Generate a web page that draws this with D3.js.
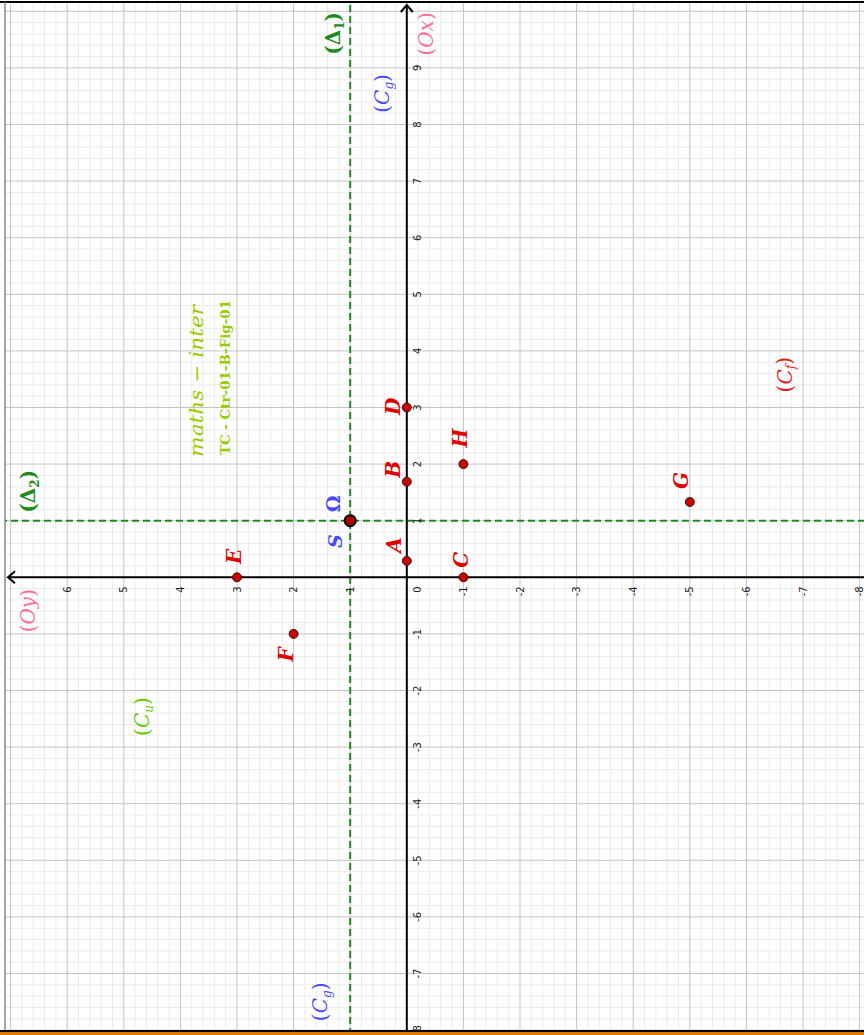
<!DOCTYPE html>
<meta charset="utf-8">
<style>
  body { margin: 0; background: #fff; }
  svg { display: block; }
</style>
<body></body>
<script src="https://cdn.jsdelivr.net/npm/d3@7"></script>
<script>
  const width = 864
  const height = 1035

  // points (math coordinates) and where their names sit
  const pointNames = ["A", "B", "C", "D", "E", "F", "G", "H"]
  const pointX = [0.29, 1.69, 0, 3, 0, -1, 1.33, 2]
  const pointY = [0, 0, -1, 0, 3, 2, -5, -1]
  const pointLabelX = [0.57, 1.91, 0.31, 3.02, 0.37, -1.36, 1.71, 2.46]
  const pointLabelY = [0.23, 0.235, -0.95, 0.24, 3.06, 2.14, -4.84, -0.94]

  // centre of symmetry Omega
  const omega = [1, 1]

  // curve / line names: [base, subscript, colour key]
  const curveNames = [["Ox", "", "axis"], ["Oy", "", "axis"], ["C", "g", "cg"], ["C", "g", "cg"],
                      ["C", "f", "cf"], ["C", "u", "cu"], ["Δ", "1", "delta"], ["Δ", "2", "delta"]]
  const curveLabelX = [9.6, -0.59, 8.55, -7.5, 3.58, -2.46, 9.61, 1.52]
  const curveLabelY = [-0.34, 6.69, 0.43, 1.53, -6.68, 4.67, 1.30, 6.69]

  const xTicks = d3.range(-8, 10)
  const yTicks = d3.range(-8, 7)

  const colors = {
    axis: "#ff6f99",
    cg: "#4a4aff",
    cf: "#e31a1a",
    cu: "#66cc00",
    delta: "#1f8a1f",
    point: "#e00000",
    credit: "#99cc00"
  }

  // the picture is a GeoGebra view turned a quarter turn: draw it flat, then rotate
  const fw = height, fh = width
  const unit = 56.6
  const x = d3.scaleLinear().domain([0, 1]).range([457.7, 457.7 + unit])
  const y = d3.scaleLinear().domain([0, 1]).range([406.8, 406.8 - unit])

  const svg = d3.select("body").append("svg")
    .attr("width", width)
    .attr("height", height)

  svg.append("defs").append("clipPath").attr("id", "view")
    .append("rect").attr("x", 4).attr("y", 5).attr("width", 1029).attr("height", fh - 5)

  const g = svg.append("g")
    .attr("transform", `translate(0,${height}) rotate(-90)`)

  const grid = g.append("g").attr("clip-path", "url(#view)")

  // minor grid every 1/5 unit
  const minorX = d3.range(-45, 56).filter(i => i % 5 !== 0).map(i => i / 5)
  const minorY = d3.range(-45, 41).filter(i => i % 5 !== 0).map(i => i / 5)
  grid.selectAll("line.mx").data(minorX).join("line")
    .attr("x1", d => x(d)).attr("x2", d => x(d)).attr("y1", 0).attr("y2", fh)
    .attr("stroke", "#ebebeb").attr("stroke-width", 1)
  grid.selectAll("line.my").data(minorY).join("line")
    .attr("y1", d => y(d)).attr("y2", d => y(d)).attr("x1", 0).attr("x2", fw)
    .attr("stroke", "#ebebeb").attr("stroke-width", 1)

  // major grid
  grid.selectAll("line.Mx").data(d3.range(-9, 12)).join("line")
    .attr("x1", d => x(d)).attr("x2", d => x(d)).attr("y1", 0).attr("y2", fh)
    .attr("stroke", "#c4c4c4").attr("stroke-width", 1)
  grid.selectAll("line.My").data(d3.range(-9, 9)).join("line")
    .attr("y1", d => y(d)).attr("y2", d => y(d)).attr("x1", 0).attr("x2", fw)
    .attr("stroke", "#c4c4c4").attr("stroke-width", 1)

  // dashed asymptotes
  grid.append("line")
    .attr("x1", 0).attr("x2", fw).attr("y1", y(omega[1])).attr("y2", y(omega[1]))
    .attr("stroke", colors.delta).attr("stroke-width", 2).attr("stroke-dasharray", "7,4")
  grid.append("line")
    .attr("y1", 0).attr("y2", fh).attr("x1", x(omega[0])).attr("x2", x(omega[0]))
    .attr("stroke", colors.delta).attr("stroke-width", 2).attr("stroke-dasharray", "7,4")

  // axes
  const axisG = g.append("g").attr("stroke", "#000").attr("stroke-width", 2).attr("fill", "none")
  axisG.append("line").attr("x1", 4).attr("x2", fw - 5).attr("y1", y(0)).attr("y2", y(0))
  axisG.append("line").attr("x1", x(0)).attr("x2", x(0)).attr("y1", fh).attr("y2", 8)
  axisG.append("path")
    .attr("d", `M${fw - 12},${y(0) - 6}L${fw - 5},${y(0)}L${fw - 12},${y(0) + 6}`)
  axisG.append("path")
    .attr("d", `M${x(0) - 6},${15}L${x(0)},${8}L${x(0) + 6},${15}`)

  // tick labels
  const tickFont = "'DejaVu Sans', sans-serif"
  g.append("g").selectAll("text").data(xTicks).join("text")
    .attr("x", d => d === 0 ? x(0) - 9 : x(d))
    .attr("y", y(0) + 14)
    .attr("text-anchor", d => d === 0 ? "end" : "middle")
    .attr("font-family", tickFont).attr("font-size", 10).attr("fill", "#222")
    .text(d => String(d))
  g.append("g").selectAll("text").data(yTicks.filter(d => d !== 0)).join("text")
    .attr("x", x(0) - 9)
    .attr("y", d => y(d))
    .attr("dy", "0.35em")
    .attr("text-anchor", "end")
    .attr("font-family", tickFont).attr("font-size", 10).attr("fill", "#222")
    .text(d => String(d))

  const serif = "'DejaVu Serif', serif"

  // curve names
  const cl = g.append("g").selectAll("text").data(curveNames).join("text")
    .attr("x", (d, i) => x(curveLabelX[i]))
    .attr("y", (d, i) => y(curveLabelY[i]))
    .attr("dy", "0.35em")
    .attr("text-anchor", "middle")
    .attr("font-family", serif)
    .attr("font-size", 20)
    .attr("font-weight", d => d[2] === "delta" ? "bold" : "normal")
    .attr("fill", d => colors[d[2]])
  cl.each(function(d) {
    const t = d3.select(this)
    t.append("tspan").text("(")
    t.append("tspan").attr("font-style", d[2] === "delta" ? "normal" : "italic").text(d[0])
    if (d[1]) {
      t.append("tspan").attr("font-size", 12).attr("dy", "0.3em")
        .attr("font-style", d[2] === "delta" ? "normal" : "italic").text(d[1])
      t.append("tspan").attr("dy", "-0.2em").text(")")
    } else {
      t.append("tspan").text(")")
    }
  })

  // S and Omega
  g.append("text")
    .attr("x", x(1.30)).attr("y", y(1.29)).attr("dy", "0.35em")
    .attr("text-anchor", "middle").attr("font-family", serif).attr("font-size", 19)
    .attr("font-weight", "bold").attr("fill", colors.cg).text("Ω")
  g.append("text")
    .attr("x", x(0.64)).attr("y", y(1.26)).attr("dy", "0.35em")
    .attr("text-anchor", "middle").attr("font-family", serif).attr("font-size", 19)
    .attr("font-weight", "bold").attr("font-style", "italic").attr("fill", colors.cg).text("S")

  // credit
  g.append("text")
    .attr("x", x(3.47)).attr("y", y(3.72)).attr("dy", "0.35em")
    .attr("text-anchor", "middle").attr("font-family", serif).attr("font-size", 19)
    .attr("font-style", "italic").attr("fill", colors.credit)
    .attr("textLength", 152).attr("lengthAdjust", "spacingAndGlyphs")
    .text("maths − inter")
  g.append("text")
    .attr("x", x(3.53)).attr("y", y(3.21)).attr("dy", "0.35em")
    .attr("text-anchor", "middle").attr("font-family", serif).attr("font-size", 13)
    .attr("font-weight", "bold").attr("fill", colors.credit)
    .attr("textLength", 155).attr("lengthAdjust", "spacingAndGlyphs")
    .text("TC - Ctr-01-B-Fig-01")

  // points
  g.append("g").selectAll("circle").data(pointNames).join("circle")
    .attr("cx", (d, i) => x(pointX[i]))
    .attr("cy", (d, i) => y(pointY[i]))
    .attr("r", 4.5)
    .attr("fill", "#d00000").attr("stroke", "#222").attr("stroke-width", 1)
  g.append("circle")
    .attr("cx", x(omega[0])).attr("cy", y(omega[1])).attr("r", 5.5)
    .attr("fill", "#b00000").attr("stroke", "#000").attr("stroke-width", 2)

  g.append("g").selectAll("text").data(pointNames).join("text")
    .attr("x", (d, i) => x(pointLabelX[i]))
    .attr("y", (d, i) => y(pointLabelY[i]))
    .attr("dy", "0.35em")
    .attr("text-anchor", "middle")
    .attr("font-family", serif).attr("font-size", 20)
    .attr("font-weight", "bold").attr("font-style", "italic")
    .attr("fill", colors.point)
    .text(d => d)

  // frame lines
  svg.append("line").attr("x1", 0).attr("x2", width).attr("y1", 2).attr("y2", 2)
    .attr("stroke", "#000").attr("stroke-width", 2)
  svg.append("line").attr("x1", 5).attr("x2", 5).attr("y1", 2).attr("y2", 1031)
    .attr("stroke", "#888").attr("stroke-width", 1.5)
  svg.append("line").attr("x1", 0).attr("x2", width).attr("y1", 1031).attr("y2", 1031)
    .attr("stroke", "#000").attr("stroke-width", 2)
  svg.append("line").attr("x1", 0).attr("x2", width).attr("y1", 1033.5).attr("y2", 1033.5)
    .attr("stroke", "#e07800").attr("stroke-width", 3)
</script>
